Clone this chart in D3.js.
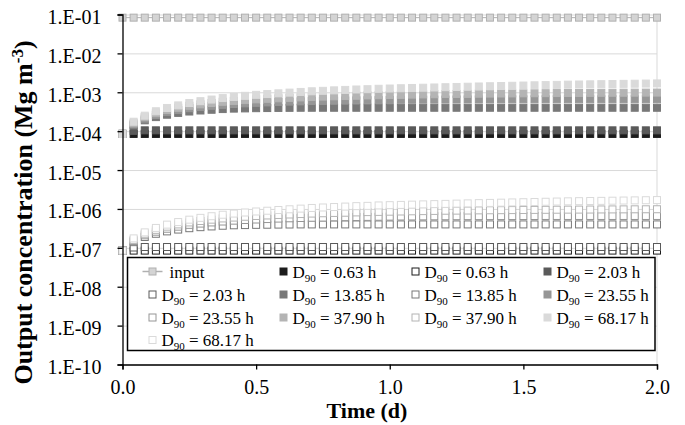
<!DOCTYPE html>
<html><head><meta charset="utf-8">
<script src="https://cdn.jsdelivr.net/npm/d3@7/dist/d3.min.js"></script>
<style>body{margin:0;background:#fff}</style>
</head><body>
<svg id="chart" width="685" height="425"></svg>
<script>
// ---------- data ----------
const hours = [0,1,2,3,4,5,6,7,8,9,10,11,12,13,14,15,16,17,18,19,20,21,22,23,24,25,26,27,28,29,30,31,32,33,34,35,36,37,38,39,40,41,42,43,44,45,46,47,48];

const yTickValues = [1e-1,1e-2,1e-3,1e-4,1e-5,1e-6,1e-7,1e-8,1e-9,1e-10];
const yTickLabels = ["1.E-01","1.E-02","1.E-03","1.E-04","1.E-05","1.E-06","1.E-07","1.E-08","1.E-09","1.E-10"];
const xTickValues = [0,0.5,1,1.5,2];
const xTickLabels = ["0.0","0.5","1.0","1.5","2.0"];

const inputValues = [0.083,0.083,0.083,0.083,0.083,0.083,0.083,0.083,0.083,0.083,0.083,0.083,0.083,0.083,0.083,0.083,0.083,0.083,0.083,0.083,0.083,0.083,0.083,0.083,0.083,0.083,0.083,0.083,0.083,0.083,0.083,0.083,0.083,0.083,0.083,0.083,0.083,0.083,0.083,0.083,0.083,0.083,0.083,0.083,0.083,0.083,0.083,0.083,0.083];

// filled markers (upper group)
const f063 = [0.85e-4,0.85e-4,0.85e-4,0.85e-4,0.85e-4,0.85e-4,0.85e-4,0.85e-4,0.85e-4,0.85e-4,0.85e-4,0.85e-4,0.85e-4,0.85e-4,0.85e-4,0.85e-4,0.85e-4,0.85e-4,0.85e-4,0.85e-4,0.85e-4,0.85e-4,0.85e-4,0.85e-4,0.85e-4,0.85e-4,0.85e-4,0.85e-4,0.85e-4,0.85e-4,0.85e-4,0.85e-4,0.85e-4,0.85e-4,0.85e-4,0.85e-4,0.85e-4,0.85e-4,0.85e-4,0.85e-4,0.85e-4,0.85e-4,0.85e-4,0.85e-4,0.85e-4,0.85e-4,0.85e-4,0.85e-4,0.85e-4];
const f203 = [0.85e-4,1.02e-4,1.05e-4,1.05e-4,1.05e-4,1.05e-4,1.05e-4,1.05e-4,1.05e-4,1.05e-4,1.05e-4,1.05e-4,1.05e-4,1.05e-4,1.05e-4,1.05e-4,1.05e-4,1.05e-4,1.05e-4,1.05e-4,1.05e-4,1.05e-4,1.05e-4,1.05e-4,1.05e-4,1.05e-4,1.05e-4,1.05e-4,1.05e-4,1.05e-4,1.05e-4,1.05e-4,1.05e-4,1.05e-4,1.05e-4,1.05e-4,1.05e-4,1.05e-4,1.05e-4,1.05e-4,1.05e-4,1.05e-4,1.05e-4,1.05e-4,1.05e-4,1.05e-4,1.05e-4,1.05e-4,1.05e-4];
const f1385 = [0.85e-4,1.4e-4,1.9e-4,2.3e-4,2.65e-4,2.95e-4,3.2e-4,3.4e-4,3.55e-4,3.7e-4,3.8e-4,3.85e-4,3.9e-4,3.93e-4,3.96e-4,3.98e-4,4.0e-4,4.0e-4,4.0e-4,4.0e-4,4.0e-4,4.0e-4,4.0e-4,4.0e-4,4.0e-4,4.0e-4,4.0e-4,4.0e-4,4.0e-4,4.0e-4,4.0e-4,4.0e-4,4.0e-4,4.0e-4,4.0e-4,4.0e-4,4.0e-4,4.0e-4,4.0e-4,4.0e-4,4.0e-4,4.0e-4,4.0e-4,4.0e-4,4.0e-4,4.0e-4,4.0e-4,4.0e-4,4.0e-4];
const f2355 = [0.85e-4,1.5e-4,2.1e-4,2.6e-4,3.1e-4,3.5e-4,3.9e-4,4.2e-4,4.5e-4,4.75e-4,5.0e-4,5.2e-4,5.35e-4,5.5e-4,5.65e-4,5.75e-4,5.85e-4,5.95e-4,6.0e-4,6.1e-4,6.15e-4,6.2e-4,6.25e-4,6.3e-4,6.35e-4,6.4e-4,6.42e-4,6.45e-4,6.48e-4,6.5e-4,6.52e-4,6.53e-4,6.54e-4,6.55e-4,6.56e-4,6.57e-4,6.58e-4,6.59e-4,6.6e-4,6.6e-4,6.6e-4,6.6e-4,6.6e-4,6.6e-4,6.6e-4,6.6e-4,6.6e-4,6.6e-4,6.6e-4];
const f3790 = [0.85e-4,1.6e-4,2.3e-4,2.9e-4,3.5e-4,4.0e-4,4.5e-4,4.9e-4,5.3e-4,5.7e-4,6.0e-4,6.3e-4,6.6e-4,6.8e-4,7.0e-4,7.2e-4,7.4e-4,7.6e-4,7.75e-4,7.9e-4,8.0e-4,8.15e-4,8.3e-4,8.4e-4,8.5e-4,8.6e-4,8.7e-4,8.8e-4,8.9e-4,9.0e-4,9.05e-4,9.1e-4,9.2e-4,9.25e-4,9.3e-4,9.35e-4,9.4e-4,9.45e-4,9.5e-4,9.55e-4,9.6e-4,9.62e-4,9.65e-4,9.7e-4,9.72e-4,9.75e-4,9.78e-4,9.8e-4,9.82e-4];
const f6817 = [0.85e-4,1.75e-4,2.5e-4,3.25e-4,3.95e-4,4.6e-4,5.3e-4,5.9e-4,6.5e-4,7.1e-4,7.6e-4,8.1e-4,8.6e-4,9.0e-4,9.4e-4,9.8e-4,10.2e-4,10.6e-4,10.9e-4,11.2e-4,11.5e-4,11.8e-4,12.0e-4,12.3e-4,12.5e-4,12.7e-4,12.9e-4,13.1e-4,13.3e-4,13.5e-4,13.7e-4,13.9e-4,14.1e-4,14.3e-4,14.5e-4,14.7e-4,14.9e-4,15.1e-4,15.3e-4,15.5e-4,15.7e-4,15.85e-4,16.0e-4,16.15e-4,16.3e-4,16.45e-4,16.6e-4,16.75e-4,16.9e-4];

// hollow markers (lower group)
const h063 = [0.85e-7,0.85e-7,0.85e-7,0.85e-7,0.85e-7,0.85e-7,0.85e-7,0.85e-7,0.85e-7,0.85e-7,0.85e-7,0.85e-7,0.85e-7,0.85e-7,0.85e-7,0.85e-7,0.85e-7,0.85e-7,0.85e-7,0.85e-7,0.85e-7,0.85e-7,0.85e-7,0.85e-7,0.85e-7,0.85e-7,0.85e-7,0.85e-7,0.85e-7,0.85e-7,0.85e-7,0.85e-7,0.85e-7,0.85e-7,0.85e-7,0.85e-7,0.85e-7,0.85e-7,0.85e-7,0.85e-7,0.85e-7,0.85e-7,0.85e-7,0.85e-7,0.85e-7,0.85e-7,0.85e-7,0.85e-7,0.85e-7];
const h203 = [0.85e-7,1.02e-7,1.05e-7,1.05e-7,1.05e-7,1.05e-7,1.05e-7,1.05e-7,1.05e-7,1.05e-7,1.05e-7,1.05e-7,1.05e-7,1.05e-7,1.05e-7,1.05e-7,1.05e-7,1.05e-7,1.05e-7,1.05e-7,1.05e-7,1.05e-7,1.05e-7,1.05e-7,1.05e-7,1.05e-7,1.05e-7,1.05e-7,1.05e-7,1.05e-7,1.05e-7,1.05e-7,1.05e-7,1.05e-7,1.05e-7,1.05e-7,1.05e-7,1.05e-7,1.05e-7,1.05e-7,1.05e-7,1.05e-7,1.05e-7,1.05e-7,1.05e-7,1.05e-7,1.05e-7,1.05e-7,1.05e-7];
const h1385 = [0.85e-7,1.4e-7,1.9e-7,2.3e-7,2.65e-7,2.95e-7,3.2e-7,3.4e-7,3.55e-7,3.7e-7,3.8e-7,3.85e-7,3.9e-7,3.93e-7,3.96e-7,3.98e-7,4.0e-7,4.0e-7,4.0e-7,4.0e-7,4.0e-7,4.0e-7,4.0e-7,4.0e-7,4.0e-7,4.0e-7,4.0e-7,4.0e-7,4.0e-7,4.0e-7,4.0e-7,4.0e-7,4.0e-7,4.0e-7,4.0e-7,4.0e-7,4.0e-7,4.0e-7,4.0e-7,4.0e-7,4.0e-7,4.0e-7,4.0e-7,4.0e-7,4.0e-7,4.0e-7,4.0e-7,4.0e-7,4.0e-7];
const h2355 = [0.85e-7,1.5e-7,2.1e-7,2.6e-7,3.1e-7,3.5e-7,3.9e-7,4.2e-7,4.5e-7,4.75e-7,5.0e-7,5.2e-7,5.35e-7,5.5e-7,5.65e-7,5.75e-7,5.85e-7,5.95e-7,6.0e-7,6.1e-7,6.15e-7,6.2e-7,6.25e-7,6.3e-7,6.35e-7,6.4e-7,6.42e-7,6.45e-7,6.48e-7,6.5e-7,6.52e-7,6.53e-7,6.54e-7,6.55e-7,6.56e-7,6.57e-7,6.58e-7,6.59e-7,6.6e-7,6.6e-7,6.6e-7,6.6e-7,6.6e-7,6.6e-7,6.6e-7,6.6e-7,6.6e-7,6.6e-7,6.6e-7];
const h3790 = [0.85e-7,1.6e-7,2.3e-7,2.9e-7,3.5e-7,4.0e-7,4.5e-7,4.9e-7,5.3e-7,5.7e-7,6.0e-7,6.3e-7,6.6e-7,6.8e-7,7.0e-7,7.2e-7,7.4e-7,7.6e-7,7.75e-7,7.9e-7,8.0e-7,8.15e-7,8.3e-7,8.4e-7,8.5e-7,8.6e-7,8.7e-7,8.8e-7,8.9e-7,9.0e-7,9.05e-7,9.1e-7,9.2e-7,9.25e-7,9.3e-7,9.35e-7,9.4e-7,9.45e-7,9.5e-7,9.55e-7,9.6e-7,9.62e-7,9.65e-7,9.7e-7,9.72e-7,9.75e-7,9.78e-7,9.8e-7,9.82e-7];
const h6817 = [0.85e-7,1.75e-7,2.5e-7,3.25e-7,3.95e-7,4.6e-7,5.3e-7,5.9e-7,6.5e-7,7.1e-7,7.6e-7,8.1e-7,8.6e-7,9.0e-7,9.4e-7,9.8e-7,10.2e-7,10.6e-7,10.9e-7,11.2e-7,11.5e-7,11.8e-7,12.0e-7,12.3e-7,12.5e-7,12.7e-7,12.9e-7,13.1e-7,13.3e-7,13.5e-7,13.7e-7,13.9e-7,14.1e-7,14.3e-7,14.5e-7,14.7e-7,14.9e-7,15.1e-7,15.3e-7,15.5e-7,15.7e-7,15.85e-7,16.0e-7,16.15e-7,16.3e-7,16.45e-7,16.6e-7,16.75e-7,16.9e-7];

const d90Labels = ["0.63","2.03","13.85","23.55","37.90","68.17"];
const seriesColors = ["#1c1c1c","#5a5a5a","#787878","#969696","#b4b4b4","#dadada"];
const filledSeries = [f063,f203,f1385,f2355,f3790,f6817];
const hollowSeries = [h063,h203,h1385,h2355,h3790,h6817];

// ---------- build ----------
const svg = d3.select("#chart");
const W = 685, H = 425;
const plot = {left:122.5, right:657, top:14.5, bottom:364.5};
const serif = "'Liberation Serif','Times New Roman',serif";

const x = d3.scaleLinear().domain([0,2]).range([plot.left, plot.right]);
const y = d3.scaleLog().domain([1e-10,1e-1]).range([plot.bottom, plot.top]);

svg.append("rect").attr("width",W).attr("height",H).attr("fill","#fff");

// gridlines
svg.append("g").attr("transform",`translate(${plot.left},0)`)
  .call(d3.axisLeft(y).tickValues(yTickValues).tickSize(-(plot.right-plot.left)).tickFormat(""))
  .call(g=>g.select(".domain").remove())
  .call(g=>g.selectAll("line").attr("stroke","#d9d9d9").attr("stroke-width",1));
// plot border (right)
svg.append("line").attr("x1",plot.right).attr("x2",plot.right).attr("y1",plot.top).attr("y2",plot.bottom)
  .attr("stroke","#d9d9d9").attr("stroke-width",1);

// series
const entries = [];
entries.push({label:"input", values:inputValues, fill:"#d4d4d4", stroke:"#b0b0b0", line:true});
for (let i=0;i<6;i++){
  entries.push({d90:d90Labels[i], values:filledSeries[i], fill:seriesColors[i], stroke:seriesColors[i]});
  entries.push({d90:d90Labels[i], values:hollowSeries[i], fill:"#ffffff", stroke:seriesColors[i]});
}

const ms = 7;
entries.forEach(s=>{
  const pts = s.values.map((v,i)=>({t:hours[i]/24, v}));
  const g = svg.append("g");
  if (s.line){
    g.append("path").datum(pts)
      .attr("d", d3.line().x(d=>x(d.t)).y(d=>y(d.v)))
      .attr("fill","none").attr("stroke",s.stroke).attr("stroke-width",1);
  }
  g.selectAll("rect").data(pts).join("rect")
    .attr("x",d=>x(d.t)-ms/2).attr("y",d=>y(d.v)-ms/2)
    .attr("width",ms).attr("height",ms)
    .attr("fill",s.fill).attr("stroke",s.stroke).attr("stroke-width",1);
});

// axes
const yAxis = svg.append("g").attr("transform",`translate(${plot.left},0)`)
  .call(d3.axisLeft(y).tickValues(yTickValues).tickSize(5).tickPadding(16).tickFormat((d,i)=>yTickLabels[i]));
yAxis.select(".domain").attr("stroke","#000").attr("stroke-width",1.3);
yAxis.selectAll("line").attr("stroke","#000").attr("stroke-width",1.3);
yAxis.selectAll("text").attr("font-family",serif).attr("font-size",20).attr("fill","#000")
  .attr("dy","0.45em");

const xAxis = svg.append("g").attr("transform",`translate(0,${plot.bottom})`)
  .call(d3.axisBottom(x).tickValues(xTickValues).tickSize(5).tickPadding(10).tickFormat((d,i)=>xTickLabels[i]));
xAxis.select(".domain").attr("stroke","#000").attr("stroke-width",1.3);
xAxis.selectAll("line").attr("stroke","#000").attr("stroke-width",1.3);
xAxis.selectAll("text").attr("font-family",serif).attr("font-size",20).attr("fill","#000");

// axis titles
svg.append("text").attr("x",367).attr("y",418).attr("text-anchor","middle")
  .attr("font-family",serif).attr("font-weight","bold").attr("font-size",22).text("Time (d)");
const yt = svg.append("text").attr("transform","translate(32,212.5) rotate(-90)").attr("text-anchor","middle")
  .attr("font-family",serif).attr("font-weight","bold").attr("font-size",26);
yt.append("tspan").text("Output concentration (Mg m");
yt.append("tspan").attr("dy",-9).attr("font-size",17).text("-3");
yt.append("tspan").attr("dy",9).text(")");

// legend
const leg = {x:127.5, y:257.5, w:527.5, h:93};
svg.append("rect").attr("x",leg.x).attr("y",leg.y).attr("width",leg.w).attr("height",leg.h)
  .attr("fill","#fff").attr("stroke","#000").attr("stroke-width",1.5);
const colMarker = [152.5, 283.5, 415.5, 547.5];
const rowY = [271.5, 294.5, 317.5, 340];
entries.forEach((s,k)=>{
  const r = Math.floor(k/4), c = k%4;
  const mx = colMarker[c], my = rowY[r];
  if (s.line){
    svg.append("line").attr("x1",mx-10).attr("x2",mx+10).attr("y1",my).attr("y2",my)
      .attr("stroke",s.stroke).attr("stroke-width",1.5);
  }
  svg.append("rect").attr("x",mx-ms/2).attr("y",my-ms/2).attr("width",ms).attr("height",ms)
    .attr("fill",s.fill).attr("stroke",s.stroke).attr("stroke-width",1);
  const t = svg.append("text").attr("x", s.line ? mx+17 : mx+9).attr("y",my+6)
    .attr("font-family",serif).attr("font-size",17).attr("fill","#000");
  if (s.label){ t.text(s.label); }
  else {
    t.append("tspan").text("D");
    t.append("tspan").attr("dy",4).attr("font-size",11).text("90");
    t.append("tspan").attr("dy",-4).text(" = " + s.d90 + " h");
  }
});
</script>
</body></html>
